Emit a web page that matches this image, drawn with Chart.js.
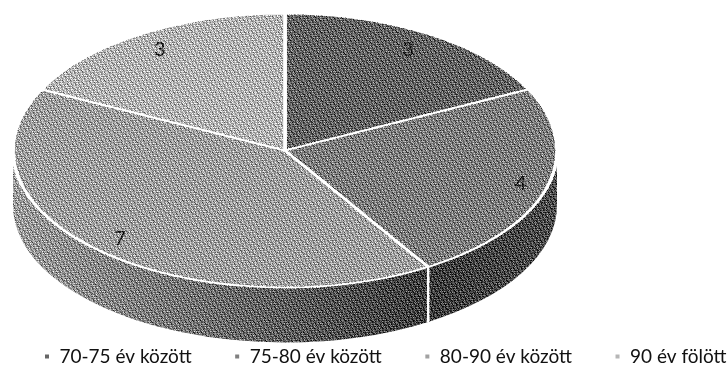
<!DOCTYPE html>
<html><head><meta charset="utf-8">
<style>html,body{margin:0;padding:0;background:#fff;width:728px;height:367px;overflow:hidden}canvas{display:block}</style>
<script src="https://cdn.jsdelivr.net/npm/chart.js@4"></script>
</head><body>
<canvas id="c" width="800" height="376"></canvas>
<script>
const categories = ['70-75 év között','75-80 év között','80-90 év között','90 év fölött'];
const values = [3,4,7,3];
const sliceColors = ['#666666','#808080','#a2a2a2','#b6b6b6'];
const wallColors = [['#3c3c3c','#3c3c3c'],['#3e3e3e','#505050'],['#a0a0a0','#3f3f3f'],['#888888','#888888']];
const labelRadialX = [0.86,0.9,0.9,0.875];
const labelRadialY = 0.87;

const CX=285, CY=150.5, RX=272, RY=137, DEPTH=55;
const BAYER=[[0,8,2,10],[12,4,14,6],[3,11,1,9],[15,7,13,5]];
const SKEW=[3,11,6,0,14,8,2,12,5,9,15,1,7,13,4,10,0,12,6];
const SKEW2=[9,2,14,5,11,0,7,13,3,15,6,1,12,8,4,10,2];

const pie3d={
  id:'pie3d',
  beforeDatasetsDraw(chart){
    const ctx=chart.ctx, arcs=chart.getDatasetMeta(0).data;
    const el=(a,dy)=>[CX+RX*Math.cos(a),CY+dy+RY*Math.sin(a)];
    arcs.forEach((arc,i)=>{
      let s=Math.max(arc.startAngle,0), e=Math.min(arc.endAngle,Math.PI);
      if(e<=s) return;
      ctx.save();
      ctx.beginPath();
      ctx.ellipse(CX,CY,RX,RY,0,s,e,false);
      ctx.ellipse(CX,CY+DEPTH,RX,RY,0,e,s,true);
      ctx.closePath();
      const p0=el(s,0),p1=el(e,0);
      const g=ctx.createLinearGradient(p1[0],0,p0[0],0);
      g.addColorStop(0,wallColors[i][0]);g.addColorStop(1,wallColors[i][1]);
      ctx.fillStyle=g;ctx.fill();
      ctx.restore();
    });
    arcs.forEach(arc=>{
      const a=arc.endAngle;
      if(a>0&&a<Math.PI){
        const p=el(a,0);
        ctx.save();ctx.strokeStyle='#fff';ctx.lineWidth=2.5;
        ctx.beginPath();ctx.moveTo(p[0],p[1]);ctx.lineTo(p[0],p[1]+DEPTH);ctx.stroke();ctx.restore();
      }
    });
    const a0=arcs[0], r=a0.outerRadius;
    ctx.save();
    ctx.translate(CX,CY);ctx.scale(RX/r,RY/r);ctx.translate(-a0.x,-a0.y);
  },
  afterDatasetsDraw(chart){
    const ctx=chart.ctx, arcs=chart.getDatasetMeta(0).data;
    ctx.restore();
    ctx.save();
    ctx.font='20px Lato';ctx.fillStyle='#1a1a1a';ctx.textAlign='center';ctx.textBaseline='middle';
    arcs.forEach((arc,i)=>{
      const m=(arc.startAngle+arc.endAngle)/2;
      ctx.fillText(String(values[i]),CX+RX*labelRadialX[i]*Math.cos(m),CY+RY*labelRadialY*Math.sin(m));
    });
    ctx.restore();
  },
  afterDraw(chart){
    const ctx=chart.ctx, W=728, H=345;
    const img=ctx.getImageData(0,0,W,H), d=img.data;
    for(let y=0;y<H;y++)for(let x=0;x<W;x++){
      const k=(y*W+x)*4, v=d[k];
      if(v>=232) continue;
      const b=BAYER[y%4][(x+(y>>2))%4]/15-0.5;
      const q=SKEW[(x*2+y*3)%19]/15-0.5;
      const u=SKEW2[(x*5+y)%17]/15-0.5;
      const n=Math.max(0,Math.min(255,v+70*b+90*q+90*u));
      d[k]=d[k+1]=d[k+2]=n;
    }
    ctx.putImageData(img,0,0);
  }
};

new Chart(document.getElementById('c'),{
  type:'pie',
  data:{labels:categories,datasets:[{data:values,backgroundColor:sliceColors,borderColor:'#fff',borderWidth:2}]},
  options:{
    responsive:false,animation:false,
    layout:{padding:{left:1.5}},
    plugins:{
      tooltip:{enabled:false},
      legend:{position:'bottom',align:'start',
        labels:{boxWidth:6,boxHeight:6,padding:42.5,color:'#111',font:{family:'Lato',size:19}}}
    }
  },
  plugins:[pie3d]
});
</script>
</body></html>
